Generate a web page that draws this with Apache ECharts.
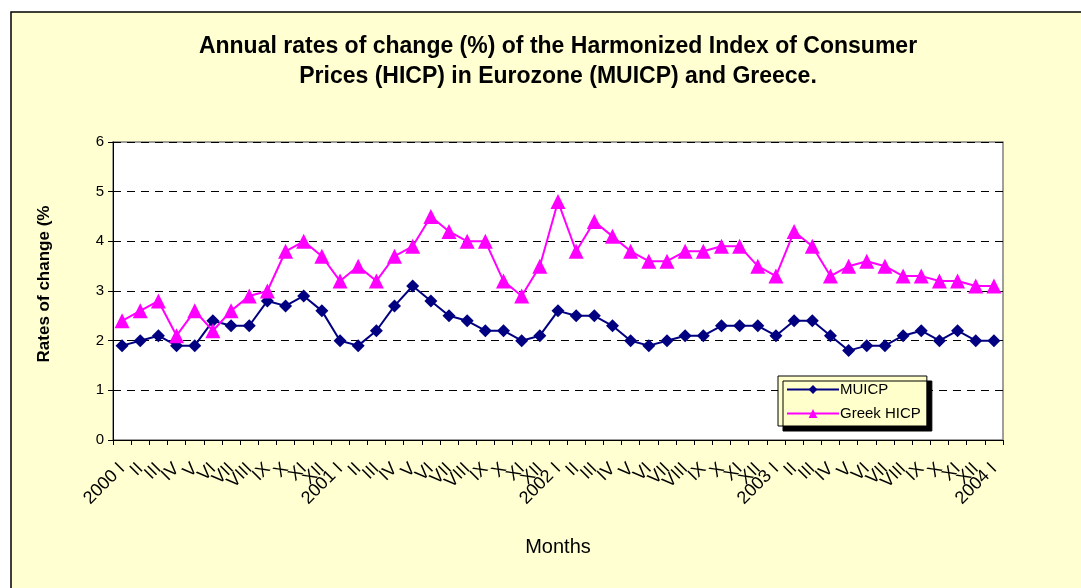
<!DOCTYPE html>
<html>
<head>
<meta charset="utf-8">
<script src="https://cdn.jsdelivr.net/npm/echarts@6/dist/echarts.min.js"></script>
<style>
  html, body { margin: 0; padding: 0; background: #fff; }
  #hicpChart { width: 1081px; height: 588px; }
</style>
</head>
<body>
<div id="hicpChart"></div>
<script>
// months 2000 I .. 2004 I
var monthNames = ['I', 'II', 'III', 'IV', 'V', 'VI', 'VII', 'VIII', 'IX', 'X', 'XI', 'XII'];
var years = ['2000', '2001', '2002', '2003'];
var months = [];
years.forEach(function (y) {
    monthNames.forEach(function (m, i) {
        months.push(i === 0 ? y + ' ' + m : m);
    });
});
months.push('2004 I');

var muicp = [1.9, 2.0, 2.1, 1.9, 1.9, 2.4, 2.3, 2.3, 2.8, 2.7, 2.9, 2.6,
             2.0, 1.9, 2.2, 2.7, 3.1, 2.8, 2.5, 2.4, 2.2, 2.2, 2.0, 2.1,
             2.6, 2.5, 2.5, 2.3, 2.0, 1.9, 2.0, 2.1, 2.1, 2.3, 2.3, 2.3,
             2.1, 2.4, 2.4, 2.1, 1.8, 1.9, 1.9, 2.1, 2.2, 2.0, 2.2, 2.0,
             2.0];
var greekHicp = [2.4, 2.6, 2.8, 2.1, 2.6, 2.2, 2.6, 2.9, 3.0, 3.8, 4.0, 3.7,
                 3.2, 3.5, 3.2, 3.7, 3.9, 4.5, 4.2, 4.0, 4.0, 3.2, 2.9, 3.5,
                 4.8, 3.8, 4.4, 4.1, 3.8, 3.6, 3.6, 3.8, 3.8, 3.9, 3.9, 3.5,
                 3.3, 4.2, 3.9, 3.3, 3.5, 3.6, 3.5, 3.3, 3.3, 3.2, 3.2, 3.1,
                 3.1];

var font = 'Arial, "Liberation Sans", sans-serif';
var myChart = echarts.init(document.getElementById('hicpChart'));

var option = {
    backgroundColor: '#ffffff',
    animation: false,
    textStyle: { fontFamily: font },
    graphic: [{
        type: 'rect',
        z: -10,
        shape: { x: 11, y: 12, width: 1090, height: 600 },
        style: { fill: '#FFFFD2', stroke: '#000', lineWidth: 1.5 }
    }],
    title: {
        text: 'Annual rates of change (%) of the Harmonized Index of Consumer\nPrices (HICP) in Eurozone (MUICP) and Greece.',
        left: 553,
        textAlign: 'center',
        top: 27,
        textStyle: { fontSize: 23, fontWeight: 'bold', color: '#000', lineHeight: 30, fontFamily: font }
    },
    legend: {
        orient: 'vertical',
        left: 778,
        top: 376,
        padding: [6, 6, 5, 8],
        itemGap: 9,
        itemWidth: 52,
        itemHeight: 11,
        backgroundColor: '#FFFFCC',
        borderColor: '#000',
        borderWidth: 1,
        shadowColor: '#000',
        shadowBlur: 0,
        shadowOffsetX: 5,
        shadowOffsetY: 5,
        textStyle: { fontSize: 15, color: '#000', fontFamily: font, padding: [0, 0, 0, -4] },
        data: ['MUICP', 'Greek HICP']
    },
    grid: {
        left: 113,
        top: 142,
        right: 78,
        bottom: 148,
        show: true,
        backgroundColor: '#ffffff',
        borderColor: '#808080',
        borderWidth: 1.5
    },
    xAxis: {
        type: 'category',
        data: months,
        boundaryGap: true,
        name: 'Months',
        nameLocation: 'middle',
        nameGap: 97,
        nameTextStyle: { fontSize: 20, color: '#000' },
        axisLine: { lineStyle: { color: '#000', width: 1 } },
        axisTick: { show: true, length: 5, lineStyle: { color: '#000' } },
        axisLabel: { interval: 0, rotate: 45, fontSize: 18, color: '#000', margin: 26 },
        splitLine: { show: false }
    },
    yAxis: {
        type: 'value',
        min: 0,
        max: 6,
        interval: 1,
        name: 'Rates of change (%',
        nameLocation: 'middle',
        nameGap: 60,
        nameTextStyle: { fontSize: 17, fontWeight: 'bold', color: '#000', padding: [0, 0, 0, 14] },
        axisLine: { show: true, lineStyle: { color: '#000', width: 1 } },
        axisTick: { show: true, length: 5, lineStyle: { color: '#000' } },
        axisLabel: { fontSize: 15, color: '#000', margin: 9 },
        splitLine: { show: true, lineStyle: { color: '#000', type: [8, 6], width: 1 } }
    },
    series: [
        {
            name: 'MUICP',
            type: 'line',
            data: muicp,
            symbol: 'diamond',
            symbolSize: 13,
            color: '#000080',
            lineStyle: { width: 2, color: '#000080' },
            itemStyle: { color: '#000080' },
            z: 3
        },
        {
            name: 'Greek HICP',
            type: 'line',
            data: greekHicp,
            symbol: 'triangle',
            symbolSize: 15,
            color: '#FF00FF',
            lineStyle: { width: 2, color: '#FF00FF' },
            itemStyle: { color: '#FF00FF' },
            z: 4
        }
    ]
};

myChart.setOption(option);
</script>
</body>
</html>
